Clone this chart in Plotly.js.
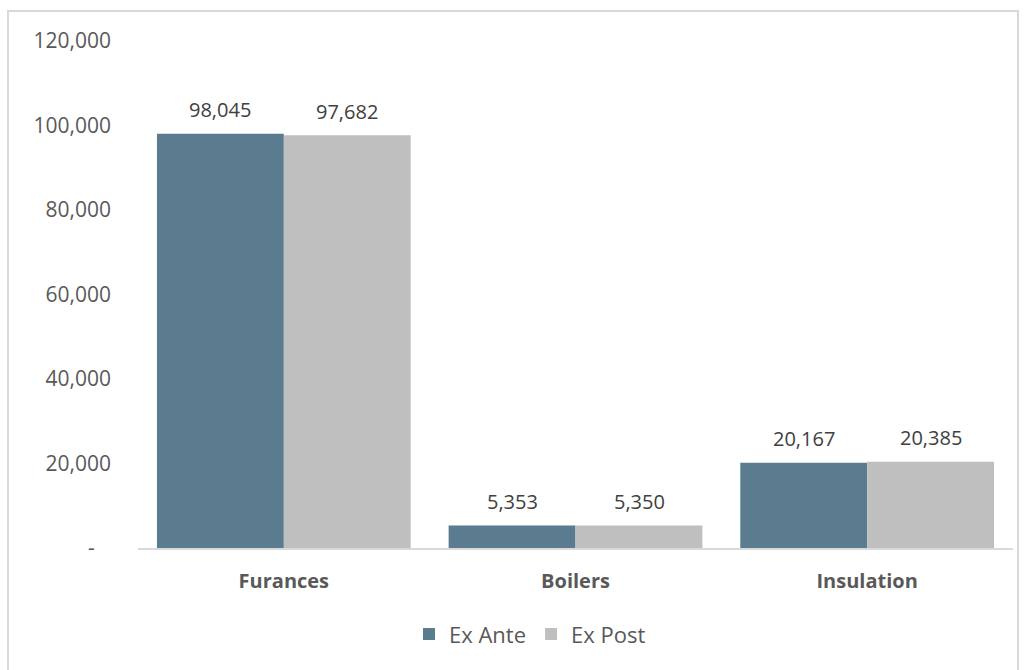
<!DOCTYPE html>
<html><head><meta charset="utf-8">
<script src="https://cdn.plot.ly/plotly-3.0.1.min.js"></script>
<style>html,body{margin:0;padding:0;background:#fff}#wrap{position:relative;width:1027px;height:670px}#chart{width:1027px;height:670px}#frame{position:absolute;left:7px;top:10px;width:1012px;height:668px;border:2px solid #d9d9d9;box-sizing:border-box;pointer-events:none}</style>
</head><body>
<div id="wrap"><div id="chart"></div><div id="frame"></div></div>
<script>
const categories = ["Furances", "Boilers", "Insulation"];
const exAnte = [98045, 5353, 20167];
const exPost = [97682, 5350, 20385];
const yTickVals = [0, 20000, 40000, 60000, 80000, 100000, 120000];
const yTickText = ["-\u00a0\u00a0\u00a0", "20,000", "40,000", "60,000", "80,000", "100,000", "120,000"];
const fmt = v => v.toLocaleString('en-US');
const labelFont = {family: "Open Sans, sans-serif", size: 20, color: "#404040"};
const traces = [
  {type: 'bar', name: 'Ex Ante', x: categories, y: exAnte, marker: {color: '#5B7B8E'}},
  {type: 'bar', name: 'Ex Post', x: categories, y: exPost, marker: {color: '#BFBFBF'}}
];
const annotations = [];
categories.forEach((c, i) => {
  annotations.push({x: c, y: exAnte[i], xref: 'x', yref: 'y', text: fmt(exAnte[i]), showarrow: false,
    xshift: -63.5, yshift: 24, font: labelFont});
  annotations.push({x: c, y: exPost[i], xref: 'x', yref: 'y', text: fmt(exPost[i]), showarrow: false,
    xshift: 63.5, yshift: 24, font: labelFont});
});
const layout = {
  width: 1027, height: 670,
  margin: {l: 138, r: 14, t: 41, b: 122},
  paper_bgcolor: '#fff', plot_bgcolor: '#fff',
  barmode: 'group', bargap: 0.13, bargroupgap: 0,
  font: {family: "Open Sans, sans-serif", color: '#595959'},
  annotations: annotations,
  xaxis: {showline: true, linecolor: '#d9d9d9', linewidth: 2, ticks: '', showgrid: false,
          tickfont: {family: "Open Sans, sans-serif", size: 20, color: '#595959', weight: 'bold'},
          ticklabelstandoff: 14},
  yaxis: {range: [0, 120000], tickvals: yTickVals, ticktext: yTickText, showgrid: false,
          zeroline: false, showline: false, ticks: '',
          tickfont: {family: "Open Sans, sans-serif", size: 21, color: '#595959'},
          ticklabelstandoff: 26},
  showlegend: true,
  legend: {orientation: 'h', x: 0.448, xanchor: 'center', y: -0.17, yanchor: 'middle',
           font: {family: "Open Sans, sans-serif", size: 22, color: '#595959'}, itemwidth: 30}
};
Plotly.newPlot('chart', traces, layout, {displayModeBar: false, staticPlot: true});
</script>
</body></html>
